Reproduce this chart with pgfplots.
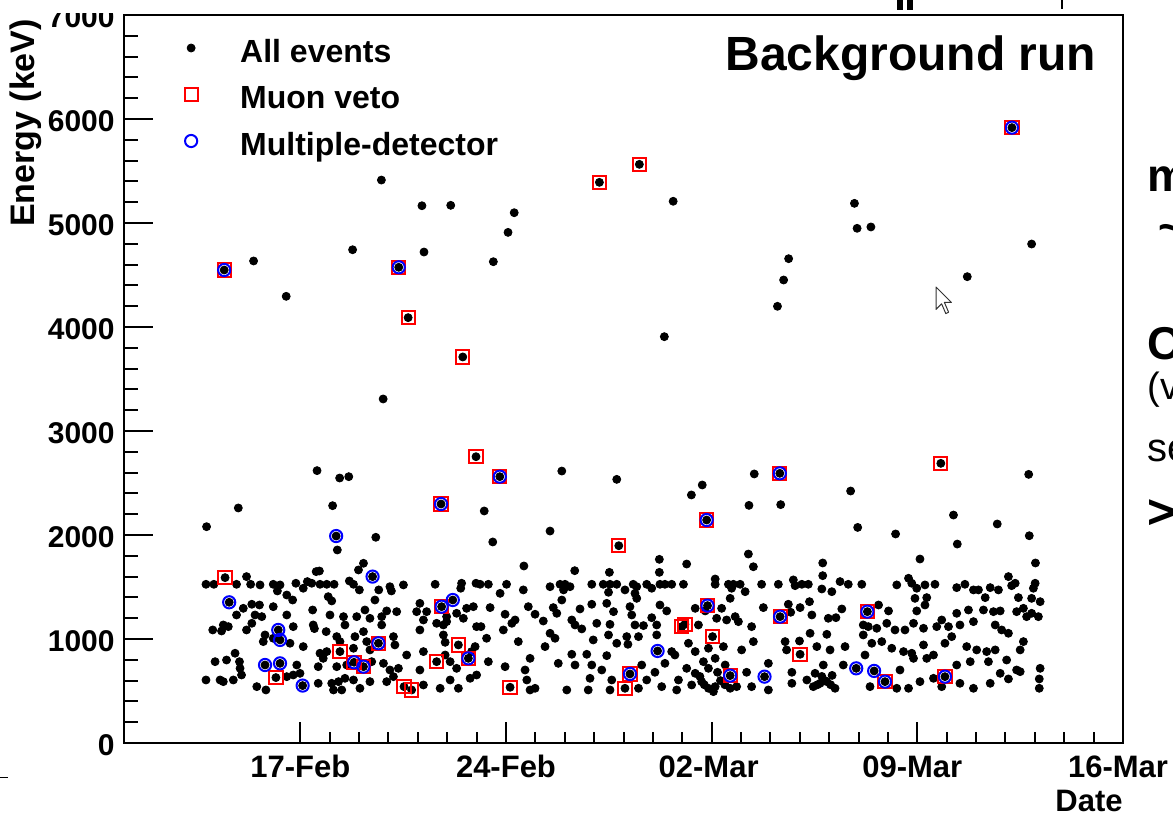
\documentclass[border=0pt]{standalone}
\usepackage{fontspec}
\setmainfont{Liberation Sans}
\usepackage{pgfplots}
\usepackage{pgfplotstable}
\pgfplotsset{compat=1.18}
\definecolor{rootred}{RGB}{255,0,0}
\definecolor{rootblue}{RGB}{0,0,255}
\newcommand{\fs}[1]{\fontsize{#1}{#1}\selectfont}

% x = days since 11-Feb, y = energy (keV)
\pgfplotstableread{
d E
3.41 4548
4.41 4635
5.52 4295
7.78 4743
8.76 5413
10.14 5166
11.12 5170
13.28 5099
13.07 4910
10.21 4721
12.57 4628
9.35 4574
9.67 4090
11.53 3712
8.82 3308
11.98 2753
12.79 2561
6.57 2619
7.34 2548
7.65 2561
3.89 2260
7.10 2282
10.79 2298
12.26 2231
16.18 5391
17.54 5564
18.69 5209
22.62 4657
22.45 4452
22.24 4199
18.39 3907
14.90 2615
16.77 2535
19.68 2481
19.31 2385
21.45 2587
22.32 2593
21.27 2285
22.35 2292
19.83 2144
30.22 5917
24.86 5189
24.95 4949
25.42 4962
30.89 4798
28.70 4484
27.80 2689
30.79 2583
24.73 2423
28.23 2192
2.81 2080
7.22 1990
7.26 1856
8.57 1978
14.50 2038
12.55 1933
16.84 1897
21.25 1817
21.42 1695
13.61 1702
15.34 1657
18.22 1766
18.22 1641
19.15 1721
16.52 1641
24.97 2073
26.26 2010
28.36 1913
29.72 2106
30.81 1993
27.09 1769
31.02 1731
23.78 1731
8.15 1728
7.98 1664
6.54 1648
6.65 1654
8.46 1600
3.44 1590
4.17 1600
6.24 1552
7.67 1558
11.49 1536
2.79 1526
3.06 1526
3.83 1526
4.31 1526
4.63 1520
5.08 1526
5.31 1520
5.85 1536
6.10 1488
6.39 1536
6.67 1526
6.90 1526
7.15 1526
7.81 1526
9.05 1503
9.51 1520
10.59 1526
11.46 1488
11.98 1536
5.22 1462
8.01 1472
8.67 1472
9.10 1462
3.58 1353
5.54 1423
5.74 1375
6.95 1407
7.07 1366
8.54 1375
4.61 1327
5.08 1311
4.06 1295
4.35 1334
10.07 1343
10.81 1311
11.19 1375
11.66 1295
11.89 1311
6.42 1279
8.20 1279
8.94 1270
9.28 1263
9.96 1263
10.30 1263
11.32 1247
3.83 1231
4.46 1231
4.69 1215
5.54 1231
7.01 1231
7.47 1215
7.92 1215
8.37 1199
8.77 1215
10.98 1215
4.35 1151
7.52 1135
10.64 1151
10.87 1135
10.98 1167
11.55 1199
5.76 1119
6.44 1135
3.38 1135
3.55 1119
3.02 1087
3.32 1077
4.17 1087
5.25 1087
5.31 991
6.48 1100
6.88 1071
8.15 1071
8.77 1135
10.07 1087
10.19 1183
12.00 1119
4.80 1039
4.74 975
5.08 1007
5.65 959
6.10 927
7.24 1023
7.35 975
7.86 1023
8.26 975
8.66 959
9.17 1023
9.22 943
10.87 1039
10.93 968
11.38 943
11.95 927
7.35 879
6.67 863
6.90 879
7.81 911
8.37 895
9.62 846
10.19 879
11.83 879
3.10 782
3.49 798
3.78 863
3.93 782
3.95 718
4.80 750
5.31 766
5.88 750
6.61 734
6.78 814
7.24 734
7.58 750
7.83 776
8.15 734
8.43 782
8.83 766
9.05 702
9.34 718
10.07 702
10.64 782
10.93 846
11.10 782
11.72 814
11.32 718
2.79 606
3.27 606
3.38 590
3.72 606
4.00 654
4.52 542
4.83 510
5.17 629
5.54 638
5.76 654
5.99 670
6.08 552
6.61 574
7.07 574
7.30 590
7.52 622
7.81 606
8.03 526
7.41 510
7.13 510
8.37 590
8.94 590
9.17 638
9.53 542
9.79 510
10.19 558
10.76 526
11.10 606
11.38 526
11.78 622
12.00 654
12.12 1526
12.40 1526
13.02 1526
14.50 1503
14.84 1526
15.01 1526
15.18 1503
15.92 1526
16.31 1526
16.54 1526
16.77 1526
17.05 1472
17.33 1526
17.45 1503
17.79 1526
17.96 1488
18.24 1526
18.41 1526
18.64 1526
19.04 1526
20.12 1526
20.57 1526
20.74 1526
20.97 1526
21.70 1526
20.12 1577
12.80 1439
13.59 1472
14.96 1472
17.39 1439
16.49 1449
20.68 1488
21.14 1455
14.90 1375
17.45 1391
20.63 1391
12.46 1302
13.76 1311
14.61 1302
15.92 1334
16.43 1343
17.22 1311
18.24 1327
19.44 1295
19.86 1321
20.34 1295
21.76 1302
12.97 1238
13.99 1238
14.73 1247
15.52 1289
16.66 1263
17.28 1231
17.96 1205
18.47 1270
19.78 1270
20.80 1215
13.31 1183
14.27 1173
15.24 1183
16.09 1151
12.15 1119
12.91 1087
13.20 1151
15.35 1135
15.58 1097
16.54 1141
17.39 1135
17.68 1129
18.13 1135
18.98 1119
19.09 1141
19.55 1135
20.17 1199
20.51 1183
20.91 1167
21.36 1119
14.50 1055
14.67 1007
15.97 991
16.49 1039
17.11 1023
17.51 1023
18.13 1039
20.03 1023
21.42 975
12.34 1007
13.42 975
14.33 927
16.77 959
17.15 949
19.21 959
19.44 879
19.89 911
20.40 927
21.02 895
18.16 885
18.64 879
18.75 846
15.24 853
15.75 853
16.43 840
12.40 782
13.82 814
14.78 766
15.35 750
15.92 750
17.62 750
18.41 766
19.15 718
19.72 782
20.12 814
20.46 750
12.97 734
13.65 702
16.26 702
17.22 664
18.07 680
19.44 670
19.89 718
20.63 648
21.19 680
21.80 638
13.71 606
15.86 622
16.60 606
17.79 606
18.87 606
19.66 590
20.12 542
20.85 542
13.14 536
13.82 510
13.99 526
15.07 510
15.80 510
16.54 510
17.05 526
17.51 526
18.30 542
18.81 510
19.32 558
19.89 526
20.06 494
20.63 526
21.36 542
19.60 640
19.75 560
20.30 600
20.45 560
20.20 680
23.78 1609
30.10 1600
26.70 1584
22.27 1526
22.78 1568
22.84 1513
23.07 1526
23.29 1526
23.75 1481
24.09 1455
24.37 1552
24.65 1526
25.11 1526
26.30 1520
26.81 1536
26.98 1488
27.26 1520
27.60 1526
28.34 1494
28.62 1526
28.91 1472
29.08 1472
29.48 1494
29.76 1472
30.21 1513
30.33 1536
30.95 1488
31.01 1536
26.92 1391
27.32 1398
29.31 1398
30.44 1398
30.89 1391
31.18 1359
22.33 1215
22.61 1334
23.01 1302
23.33 1359
22.69 1257
23.41 1231
23.97 1199
24.23 1205
24.43 1289
25.30 1263
25.68 1327
26.02 1270
26.98 1270
27.26 1327
28.34 1247
28.74 1279
29.25 1279
29.59 1263
29.82 1270
30.38 1263
30.61 1295
30.72 1215
31.12 1215
30.89 1247
23.35 1055
23.92 1045
25.16 1135
25.33 1119
25.62 1103
25.96 1151
26.24 1087
26.58 1087
26.87 1151
27.21 1103
27.66 1119
27.83 1183
28.06 1119
28.45 1135
28.91 1167
29.65 1135
29.87 1087
30.10 1055
22.50 975
22.55 895
22.99 981
23.01 853
23.58 927
24.03 895
24.54 927
25.16 1039
25.45 959
25.79 975
26.13 911
26.53 879
26.81 863
27.21 943
27.55 846
27.94 959
28.17 1023
28.68 927
29.02 895
29.36 879
29.65 895
30.04 798
30.50 895
30.61 975
21.93 766
22.73 680
23.80 750
24.48 750
24.92 718
25.22 846
25.53 693
25.90 590
26.41 702
26.87 814
27.32 814
27.94 638
28.34 750
28.80 782
29.42 782
29.82 670
30.38 702
31.18 718
21.93 510
22.73 574
23.24 606
23.46 542
23.69 574
23.92 590
24.20 526
25.39 542
26.30 526
26.70 526
27.09 590
27.55 622
27.83 542
28.45 574
28.91 526
29.48 574
30.10 616
30.50 686
31.15 616
31.15 526
23.52 670
23.75 640
23.85 600
24.05 560
23.60 560
24.10 650
}\allevents

\pgfplotstableread{
d E
3.41 4548
9.35 4574
9.67 4090
11.53 3712
11.98 2753
12.79 2561
10.79 2298
16.18 5391
17.54 5564
22.32 2593
19.83 2144
30.22 5917
27.80 2689
16.84 1897
3.44 1590
10.81 1311
7.35 879
5.17 629
7.83 776
8.15 734
8.66 959
9.53 542
9.79 510
10.64 782
11.38 943
11.72 814
13.14 536
17.05 526
17.22 664
18.98 1119
19.09 1141
19.86 1321
20.03 1023
20.63 648
22.33 1215
23.01 853
25.30 1263
25.90 590
27.94 638
}\muonveto

\pgfplotstableread{
d E
3.41 4548
9.35 4574
12.79 2561
10.79 2298
22.32 2593
19.83 2144
30.22 5917
10.81 1311
7.83 776
8.15 734
8.66 959
11.72 814
17.22 664
19.86 1321
20.63 648
22.33 1215
25.30 1263
25.90 590
27.94 638
7.22 1990
8.46 1600
3.58 1353
5.25 1087
5.31 991
4.80 750
5.31 766
6.08 552
11.19 1375
18.16 885
21.80 638
24.92 718
25.53 693
}\multidet

\begin{document}
\begin{tikzpicture}[x=1pt,y=1pt]
\path[use as bounding box] (0,0) rectangle (586.5,407.5);

% y ticks and labels
\begin{axis}[
  at={(62pt,36pt)}, anchor=south west,
  scale only axis, width=499.5pt, height=364pt,
  xmin=0, xmax=34, ymin=0, ymax=7000,
  axis line style={draw=none},
  xtick=\empty,
  ytick={0,1000,2000,3000,4000,5000,6000,7000},
  yticklabels={0,1000,2000,3000,4000,5000,6000,7000},
  minor y tick num=4,
  ytick pos=left, tick align=inside,
  major tick length=14.5pt, minor tick length=7pt,
  tick style={line width=1pt, black},
  yticklabel style={font=\bfseries\fs{15}, anchor=east, inner sep=0pt, xshift=-4.5pt, yshift=-1pt},
  ylabel={Energy (keV)},
  ylabel style={at={(axis description cs:-0.0891,0.995)}, anchor=base east, inner sep=0pt, font=\bfseries\fs{17}},
]
\end{axis}

% main axis with data and x ticks
\begin{axis}[
  at={(62pt,36pt)}, anchor=south west,
  scale only axis, width=499.5pt, height=364pt,
  xmin=0, xmax=34, ymin=0, ymax=7000,
  axis line style={line width=1.2pt, black},
  ytick=\empty,
  xtick={6,13,20,27,34},
  xticklabels={17-Feb,24-Feb,02-Mar\rule{3pt}{0pt},09-Mar\rule{5pt}{0pt},16-Mar\rule{5pt}{0pt}},
  minor x tick num=6,
  xtick pos=left, tick align=inside,
  major tick length=10.5pt, minor tick length=5.5pt,
  tick style={line width=1pt, black},
  xticklabel style={font=\bfseries\fs{15.5}, anchor=base, inner sep=0pt, yshift=-17pt},
  xlabel={Date},
  xlabel style={at={(axis description cs:1,-0.0935)}, anchor=base east, inner sep=0pt, font=\bfseries\fs{15.5}},
  legend style={at={(0.0606,0.9739)}, anchor=north west, draw=none, fill=none,
    inner sep=0pt, outer sep=0pt, row sep=9.25pt, column sep=21.25pt,
    font=\bfseries\fs{16},
    nodes={inner sep=0pt, text height=14pt, text depth=0pt, anchor=west}},
  legend cell align=left,
  legend image code/.code={\draw[#1] plot coordinates {(0pt,0pt)};},
]
\addplot[only marks, mark=*, mark size=2pt, mark options={fill=black, draw=black}]
  table[x=d, y=E] {\allevents};
\addlegendentry{All events}
\addplot[only marks, mark=square, mark size=3.3pt, mark options={draw=rootred, fill=none, line width=1pt}]
  table[x=d, y=E] {\muonveto};
\addlegendentry{Muon veto}
\addplot[only marks, mark=o, mark size=3.05pt, mark options={draw=rootblue, fill=none, line width=1pt}]
  table[x=d, y=E] {\multidet};
\addlegendentry{Multiple-detector}
\end{axis}

% the reference is cropped just above the axis on the left
\fill[white] (20,401) rectangle (60,407.6);

% title text
\node[anchor=base east, inner sep=0pt, font=\bfseries\fs{24}] at (548.3,372) {Background run};

% fragments of neighbouring slide content
\node[anchor=base west, inner sep=0pt, font=\bfseries\fs{23}] at (573.5,311.5) {m};
\node[anchor=center, inner sep=0pt, font=\bfseries\fs{22}] at (585.5,291) {\textasciitilde};
\node[anchor=base west, inner sep=0pt, font=\bfseries\fs{23}] at (573.5,227.5) {C};
\node[anchor=base west, inner sep=0pt, font=\fs{19}] at (573.5,207.5) {(v};
\node[anchor=base west, inner sep=0pt, font=\fs{20}] at (573.5,176.5) {se};
\node[anchor=west, inner sep=0pt, font=\bfseries\fs{24}] at (573.5,150.5) {>};
\fill (448.5,402.5) rectangle (451.5,407.5);
\fill (453.5,402.5) rectangle (456.5,407.5);
\draw[line width=0.6pt] (531,403) -- (531,407.5);
\draw[line width=0.4pt] (0,19) -- (4,19);

% mouse pointer
\draw[fill=white, draw=black!80, line width=0.5pt, line join=round]
  (468,264) -- (468,252.8) -- (470.8,255.6) -- (472.9,250.7) -- (474.3,251.4)
  -- (472.2,256.3) -- (475.7,256.3) -- cycle;
\end{tikzpicture}
\end{document}
